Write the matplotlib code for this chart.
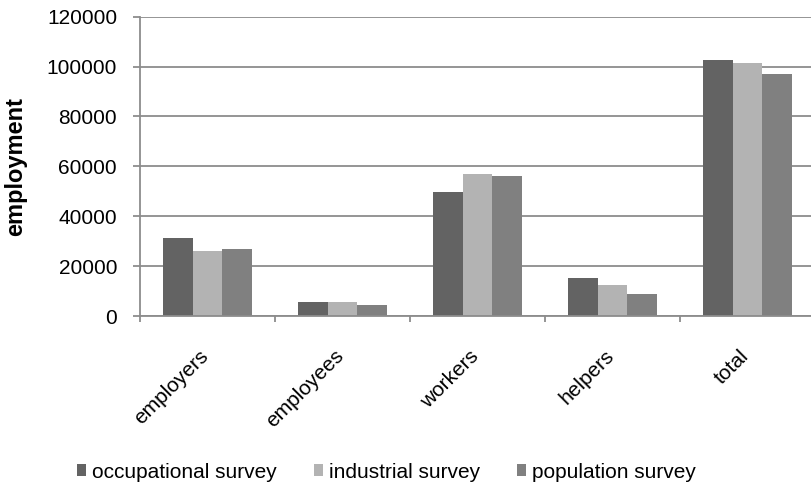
import numpy as np
import matplotlib
matplotlib.use("Agg")
import matplotlib.pyplot as plt
import matplotlib.transforms as mtransforms

plt.rcParams['font.family'] = ['Liberation Sans', 'DejaVu Sans']

categories = ["employers", "employees", "workers", "helpers", "total"]
series = ["occupational survey", "industrial survey", "population survey"]
occupational = [31300, 5500, 49600, 15300, 102500]
industrial = [26000, 5700, 56800, 12300, 101600]
population = [26800, 4400, 56000, 8800, 96900]
colors = ["#636363", "#b3b3b3", "#808080"]

fig = plt.figure(figsize=(8.12, 4.84), dpi=100)
W, H = 812, 484
ax = fig.add_axes([140 / W, 1 - 316 / H, (815 - 140) / W, (316 - 16.7) / H])

x = np.arange(len(categories))
bw = 0.222
for k, (vals, name) in enumerate(zip([occupational, industrial, population], series)):
    ax.bar(x + (k - 1) * bw, vals, bw, color=colors[k], label=name, zorder=3)

gc = "#8c8c8c"
ax.set_xlim(-0.5, 4.5)
ax.set_ylim(0, 120000)
ax.set_yticks(np.arange(0, 120001, 20000))
ax.yaxis.grid(True, color=gc, linewidth=1.3, zorder=0)
for s in ["top", "right"]:
    ax.spines[s].set_visible(False)
for s in ["left", "bottom"]:
    ax.spines[s].set_color(gc)
    ax.spines[s].set_linewidth(1.3)
    ax.spines[s].set_zorder(4)
ax.tick_params(axis="y", length=5, width=1.3, color=gc, pad=11.5, labelsize=15, labelcolor="black")
ax.set_xticks(np.arange(-0.5, 4.6, 1.0))
ax.set_xticks(x, minor=True)
ax.tick_params(axis="x", which="major", length=4.5, color=gc, width=1.3, labelbottom=False)
ax.tick_params(axis="x", which="minor", length=0, pad=22)
ax.set_xticklabels(categories, minor=True, rotation=45, ha="right", fontsize=15)
shift = mtransforms.ScaledTranslation(5 / 100, 0, fig.dpi_scale_trans)
for lab in ax.get_xticklabels(minor=True):
    lab.set_transform(lab.get_transform() + shift)

ax.set_ylabel("employment", fontsize=17, fontweight="bold")
ax.yaxis.set_label_coords(15.5 / W, 1 - 167 / H, transform=fig.transFigure)
ax.yaxis.label.set_va("center")

handles, labels = ax.get_legend_handles_labels()
fig.legend(handles, labels, loc="center", bbox_to_anchor=(386.5 / W, 1 - 472 / H), ncol=3,
           frameon=False, fontsize=15, handlelength=0.45, handleheight=0.45,
           handletextpad=0.3, columnspacing=1.75)

fig.savefig("out.png", dpi=100)
